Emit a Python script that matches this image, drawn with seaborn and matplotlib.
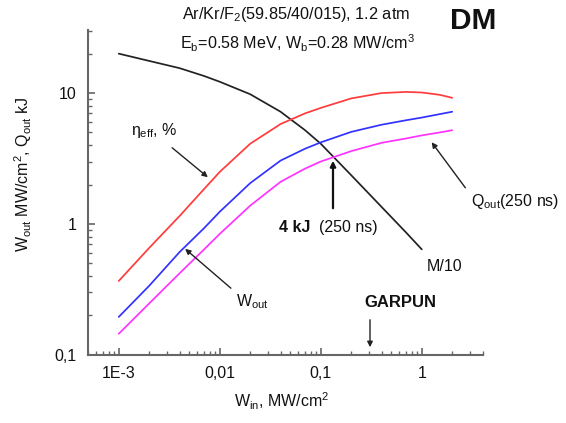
import matplotlib
matplotlib.use("Agg")
import matplotlib.pyplot as plt
import seaborn as sns
import pandas as pd

# ---- data ----
w_in = [0.001, 0.002, 0.004, 0.007, 0.01, 0.02, 0.04, 0.07, 0.1, 0.2, 0.4, 0.7, 1.0, 1.5, 2.0]
eta_eff = [0.367, 0.656, 1.15, 1.85, 2.5, 4.1, 5.8, 7.0, 7.7, 9.1, 10.0, 10.2, 10.1, 9.7, 9.2]
w_out = [0.195, 0.337, 0.61, 0.93, 1.24, 2.05, 3.05, 3.76, 4.2, 5.05, 5.73, 6.2, 6.5, 6.9, 7.2]
q_out = [0.145, 0.247, 0.42, 0.64, 0.84, 1.38, 2.1, 2.65, 3.0, 3.6, 4.17, 4.5, 4.75, 5.0, 5.2]
w_in_m = [0.001, 0.002, 0.004, 0.007, 0.01, 0.02, 0.04, 0.07, 0.1, 0.2, 0.4, 0.7, 1.0]
m10 = [20.0, 17.6, 15.5, 13.5, 12.2, 9.8, 7.2, 5.2, 4.1, 2.36, 1.35, 0.86, 0.64]

x_ticks = [0.001, 0.01, 0.1, 1]
x_labels = ["1E-3", "0,01", "0,1", "1"]
y_ticks = [0.1, 1, 10]
y_labels = ["0,1", "1", "10"]

sns.set_theme(style="ticks")
plt.rcParams["font.family"] = ["Liberation Sans", "DejaVu Sans"]
plt.rcParams["mathtext.fontset"] = "custom"
plt.rcParams["mathtext.rm"] = "Liberation Sans"
plt.rcParams["mathtext.it"] = "Liberation Sans"

fig = plt.figure(figsize=(5.66, 4.23), dpi=100)
ax = fig.add_axes([0.155, 0.161, 0.698, 0.768])

df_main = pd.DataFrame({"x": w_in, "eta": eta_eff, "wout": w_out, "qout": q_out})
df_m = pd.DataFrame({"x": w_in_m, "m": m10})

lw = 1.25
sns.lineplot(data=df_m, x="x", y="m", color="#222222", lw=lw, ax=ax)
sns.lineplot(data=df_main, x="x", y="eta", color="#ff3b3b", lw=lw, ax=ax)
sns.lineplot(data=df_main, x="x", y="wout", color="#3232ff", lw=lw, ax=ax)
sns.lineplot(data=df_main, x="x", y="qout", color="#ff33ff", lw=lw, ax=ax)

ax.set_xscale("log")
ax.set_yscale("log")
ax.set_xlim(4.93e-4, 4.02)
ax.set_ylim(0.1, 30.3)

ax.set_xticks(x_ticks)
ax.set_xticklabels(x_labels)
ax.set_yticks(y_ticks)
ax.set_yticklabels(y_labels)

spine_c = "#666666"
for s in ["top", "right"]:
    ax.spines[s].set_visible(False)
for s in ["left", "bottom"]:
    ax.spines[s].set_color(spine_c)
    ax.spines[s].set_linewidth(1.5)
ax.tick_params(which="major", direction="in", length=5, width=1.2, color=spine_c,
               labelsize=11.5, pad=8, labelcolor="#111111")
ax.tick_params(which="minor", direction="in", length=3, width=1.0, color=spine_c)

ax.set_xlabel(r"W$_{\rm in}$, MW/cm$^2$", fontsize=11.5, color="#111111")
ax.set_ylabel(r"W$_{\rm out}$ MW/cm$^2$, Q$_{\rm out}$ kJ", fontsize=11.5, color="#111111")
ax.xaxis.set_label_coords(0.49, -0.11)
ax.yaxis.set_label_coords(-0.137, 0.555)

# header texts
fig.text(296 / 566, 1 - 15 / 423, r"Ar/Kr/F$_2$(59.85/40/015), 1.2 atm", ha="center", va="center",
         fontsize=11.7, color="#111111")
fig.text(297 / 566, 1 - 43 / 423, r"E$_{\rm b}$=0.58 MeV, W$_{\rm b}$=0.28 MW/cm$^3$", ha="center",
         va="center", fontsize=11.6, color="#111111")
fig.text(473 / 566, 1 - 21 / 423, "DM", ha="center", va="center", fontsize=21.5, fontweight="bold",
         color="#111111")

def px(xp, yp):
    return (xp / 566, 1 - yp / 423)

arrow = dict(arrowstyle="-|>", color="#222222", lw=1.0, mutation_scale=8)

# eta_eff label
ax.annotate("", xy=px(210, 179), xycoords="figure fraction", xytext=px(170, 146),
            textcoords="figure fraction", arrowprops=arrow)
fig.text(*px(131, 130), r"$\eta_{\rm eff}$, %", ha="left", va="center", fontsize=11.5, color="#111111")

# W_out label
ax.annotate("", xy=px(183, 247), xycoords="figure fraction", xytext=px(233, 290),
            textcoords="figure fraction", arrowprops=arrow)
fig.text(*px(236, 302), r"W$_{\rm out}$", ha="left", va="center", fontsize=11.5, color="#111111")

# 4 kJ
ax.annotate("", xy=px(333, 158), xycoords="figure fraction", xytext=px(333, 211),
            textcoords="figure fraction",
            arrowprops=dict(arrowstyle="-|>", color="#111111", lw=1.6, mutation_scale=8))
fig.text(*px(279, 227), "4 kJ", ha="left", va="center", fontsize=11.5, fontweight="bold", color="#111111")
fig.text(*px(378, 227), "(250 ns)", ha="right", va="center", fontsize=11.5, color="#111111")

# Q_out
ax.annotate("", xy=px(430, 140), xycoords="figure fraction", xytext=px(467, 190),
            textcoords="figure fraction", arrowprops=arrow)
fig.text(*px(471, 201), r"Q$_{\rm out}$(250 ns)", ha="left", va="center", fontsize=11.5, color="#111111")

# M/10
fig.text(*px(427, 266), "M/10", ha="left", va="center", fontsize=11.5, color="#111111")

# GARPUN
fig.text(*px(400, 302), "GARPUN", ha="center", va="center", fontsize=12, fontweight="bold",
         color="#111111")
ax.annotate("", xy=px(370, 350), xycoords="figure fraction", xytext=px(370, 317),
            textcoords="figure fraction", arrowprops=arrow)

fig.savefig("out.png", dpi=100, facecolor="white")
